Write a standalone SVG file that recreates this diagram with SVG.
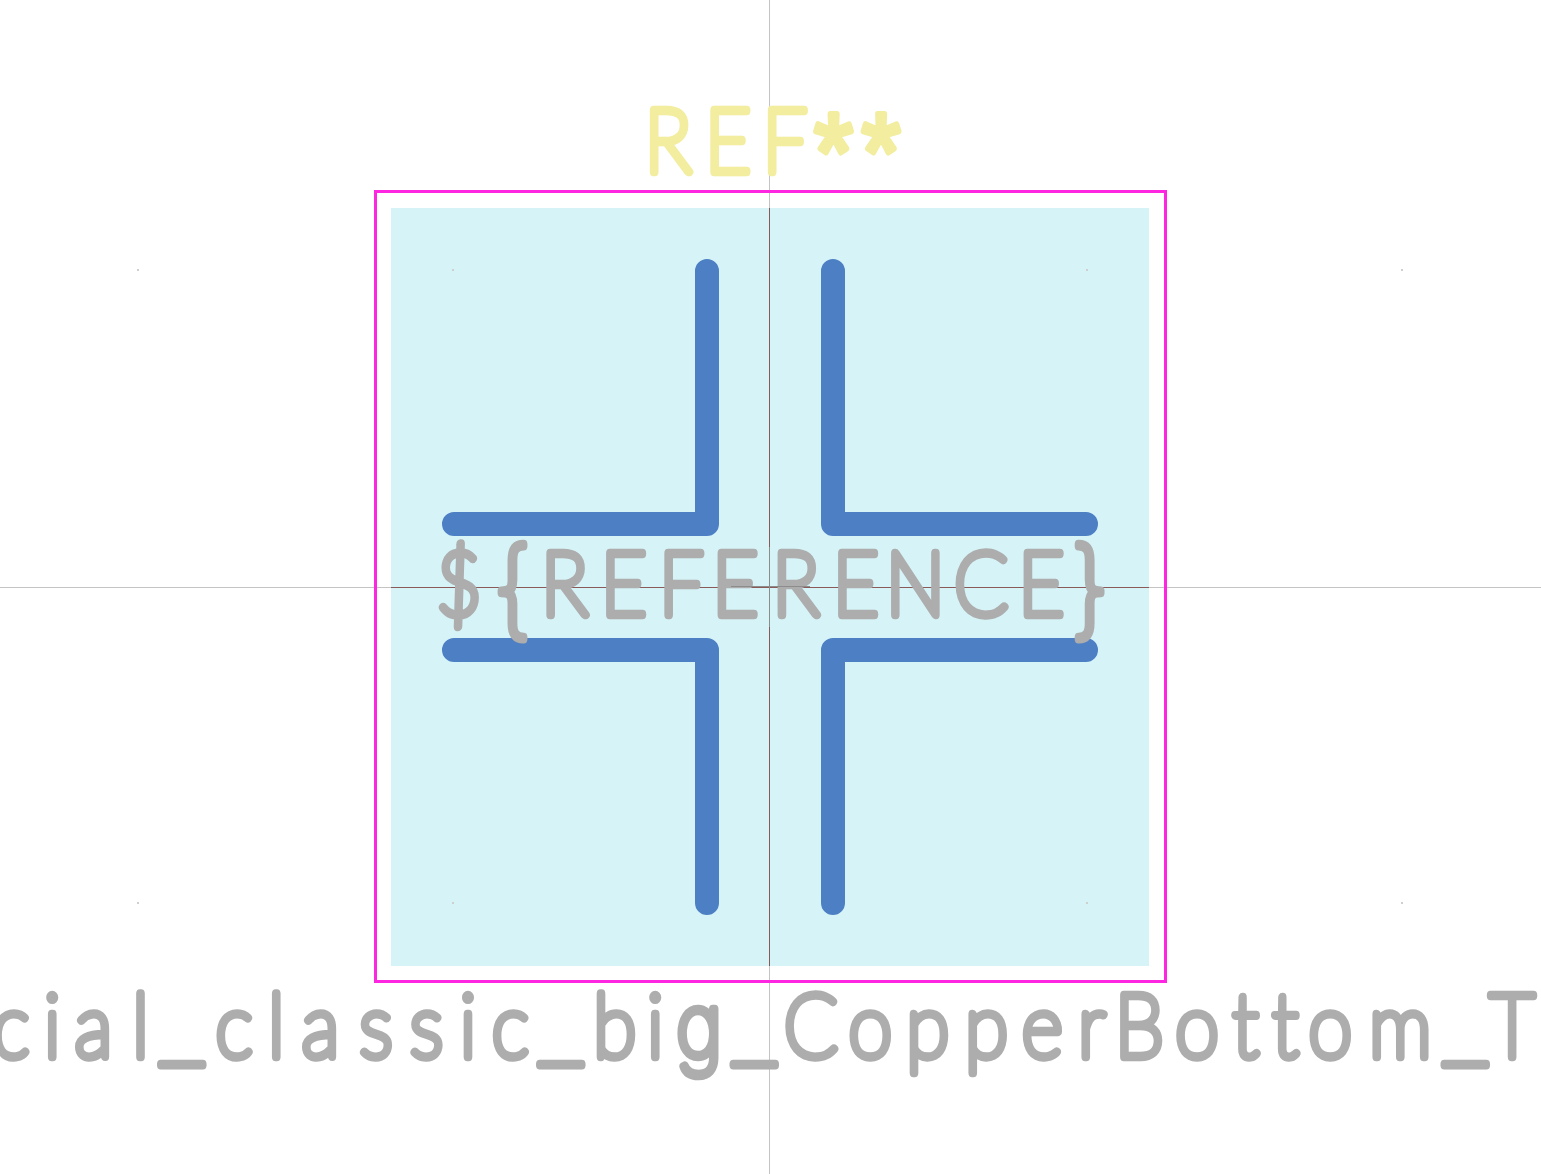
<svg xmlns="http://www.w3.org/2000/svg" width="1541" height="1174" viewBox="0 0 1541 1174">
<style>
.t{font-family:"Lato","Inter","Liberation Sans",sans-serif;font-weight:100;font-size:88px;text-anchor:middle;stroke-width:8.500px;stroke-linejoin:round;stroke-linecap:round}
.g{fill:#adadad;stroke:#adadad}
.y{fill:#f3eda0;stroke:#f3eda0}
.i{font-family:"Inter","Liberation Sans",sans-serif}
.b{font-family:"Inter","Liberation Sans",sans-serif;font-size:105px}
.a{font-family:"Liberation Sans",sans-serif;font-size:110px;font-weight:400;stroke-width:6px}
.u{font-size:118px}
.cu{fill:none;stroke:#4d7fc4;stroke-width:24;stroke-linejoin:round;stroke-linecap:round}
.d{fill:#cfcfcf}
</style>
<rect width="1541" height="1174" fill="#fff"/>
<g id="axes">
<path d="M0 587.500H1541M769.500 0V1174" stroke="#c4c4c4" stroke-width="1" fill="none"/>
</g>
<g id="courtyard-fill"><rect x="391" y="208" width="758" height="758" fill="#d6f4f8"/></g>
<g id="axes-inner">
<path d="M391 587.500H1149M769.500 208V966" stroke="#8a5a58" stroke-width="1" fill="none"/>
</g>
<g id="outline"><rect x="375.500" y="191.500" width="790" height="790" fill="none" stroke="#ff26e2" stroke-width="3"/></g>
<g id="copper">
<path class="cu" d="M707 271V524H454"/>
<path class="cu" d="M833 271V524H1086"/>
<path class="cu" d="M707 903V650H454"/>
<path class="cu" d="M833 903V650H1086"/>
</g>
<g id="points">
<rect class="d" x="137" y="269" width="2" height="2"/><rect class="d" x="452" y="269" width="2" height="2"/><rect class="d" x="1086" y="269" width="2" height="2"/><rect class="d" x="1401" y="269" width="2" height="2"/>
<rect class="d" x="137" y="902" width="2" height="2"/><rect class="d" x="452" y="902" width="2" height="2"/><rect class="d" x="1086" y="902" width="2" height="2"/><rect class="d" x="1401" y="902" width="2" height="2"/>
</g>
<g id="ref-label"><text class="t y" transform="scale(.9 1)" y="172.500" x="742 809 872 926 979">REF<tspan class="a" y="189">**</tspan></text></g>
<g id="reference-field"><text class="t g" transform="scale(.9 1)" y="615.500" x="510 569 627 693 757 817 884 951 1017 1090 1157 1211">$<tspan class="b" y="625">{</tspan><tspan y="615.500">REFERENCE</tspan><tspan class="b" y="625">}</tspan></text>
<path d="M731 586.500H810M769.500 547V627" stroke="#8c8c8c" stroke-width="1" fill="none"/></g>
<g id="value-label"><text class="t g" transform="scale(.9 1)" y="1057.500" x="12 58 104 156 202 260 307 356 418 474 520 567 623 683 728 777 838 901 967 1031 1096 1158 1213 1266 1330 1384 1428 1478 1556 1628 1680">cial<tspan class="u" y="1050">_</tspan><tspan y="1057.500">classic</tspan><tspan class="u" y="1050">_</tspan><tspan y="1057.500">bi</tspan><tspan class="i" y="1057.500">g</tspan><tspan class="u" y="1050">_</tspan><tspan y="1057.500">CopperBottom</tspan><tspan class="u" y="1050">_</tspan><tspan y="1057.500">T</tspan></text></g>
</svg>
